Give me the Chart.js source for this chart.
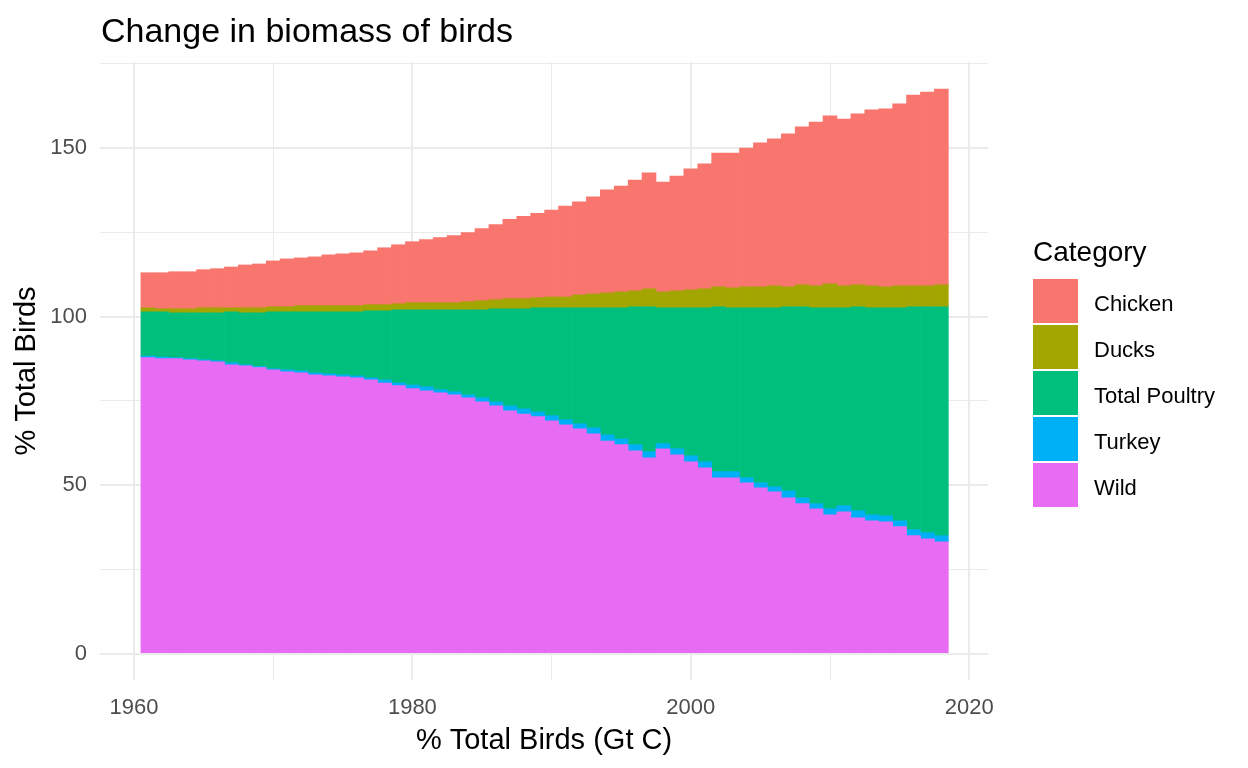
<!DOCTYPE html>
<html>
<head>
<meta charset="utf-8">
<script src="https://cdn.jsdelivr.net/npm/chart.js@4.4.1/dist/chart.umd.min.js"></script>
<style>
    html, body { margin: 0; padding: 0; background: #ffffff; }
    #wrap { width: 1248px; height: 768px; }
</style>
</head>
<body>
<div id="wrap"><canvas id="birdsChart" width="1248" height="768"></canvas></div>
<script>
const years = [
    1961, 1962, 1963, 1964, 1965, 1966, 1967, 1968, 1969, 1970,
    1971, 1972, 1973, 1974, 1975, 1976, 1977, 1978, 1979, 1980,
    1981, 1982, 1983, 1984, 1985, 1986, 1987, 1988, 1989, 1990,
    1991, 1992, 1993, 1994, 1995, 1996, 1997, 1998, 1999, 2000,
    2001, 2002, 2003, 2004, 2005, 2006, 2007, 2008, 2009, 2010,
    2011, 2012, 2013, 2014, 2015, 2016, 2017, 2018
];

const wild = [
    87.8, 87.5, 87.5, 87.2, 86.9, 86.6, 85.7, 85.4, 84.9, 84.2,
    83.6, 83.3, 82.7, 82.4, 82.1, 81.8, 81.2, 80.3, 79.5, 78.6,
    78.0, 77.4, 76.8, 75.9, 74.7, 73.5, 72.0, 71.1, 70.3, 69.1,
    67.9, 66.7, 65.2, 63.1, 62.0, 60.2, 58.1, 60.8, 59.0, 56.9,
    55.1, 52.2, 52.2, 50.7, 49.2, 48.0, 46.2, 44.5, 43.0, 41.2,
    42.1, 40.3, 39.4, 39.1, 37.7, 35.0, 34.1, 33.2
];

const turkey = [
    0.5, 0.5, 0.3, 0.3, 0.3, 0.3, 0.6, 0.3, 0.3, 0.3,
    0.6, 0.6, 0.6, 0.6, 0.6, 0.6, 0.6, 0.9, 0.8, 1.1,
    1.2, 0.9, 0.9, 0.9, 1.2, 1.2, 1.5, 1.5, 1.4, 1.5,
    1.5, 1.5, 1.8, 1.8, 1.7, 1.8, 1.8, 1.5, 1.8, 1.8,
    1.8, 1.8, 1.8, 1.5, 1.5, 1.5, 2.1, 1.7, 1.5, 1.8,
    1.8, 2.1, 1.8, 1.8, 1.7, 1.8, 1.8, 1.8
];

const totalPoultry = [
    13.1, 13.4, 13.3, 13.6, 13.9, 14.2, 15.1, 15.4, 15.9, 16.9,
    17.2, 17.5, 18.1, 18.4, 18.7, 19.0, 19.9, 20.5, 21.7, 22.3,
    22.8, 23.7, 24.3, 25.2, 26.1, 27.6, 28.8, 29.7, 30.9, 32.0,
    33.2, 34.4, 35.6, 37.7, 38.9, 40.9, 43.0, 40.3, 41.8, 43.9,
    45.7, 48.9, 48.6, 50.4, 51.9, 53.1, 54.6, 56.7, 58.1, 59.6,
    58.7, 60.5, 61.4, 61.7, 63.2, 66.1, 67.0, 67.9
];

const ducks = [
    1.2, 0.9, 1.2, 1.2, 1.5, 1.5, 1.2, 1.5, 1.5, 1.5,
    1.5, 1.8, 1.8, 1.8, 1.8, 1.8, 1.8, 1.8, 1.8, 2.1,
    2.1, 2.1, 2.1, 2.4, 2.7, 2.7, 3.0, 3.0, 3.0, 3.2,
    3.2, 3.8, 4.1, 4.4, 4.7, 4.7, 5.3, 4.7, 5.0, 5.3,
    5.6, 5.9, 5.9, 6.2, 6.2, 6.5, 5.9, 6.5, 6.5, 7.1,
    6.5, 6.5, 6.5, 6.2, 6.5, 6.2, 6.2, 6.5
];

const chicken = [
    10.4, 10.7, 11.0, 11.0, 11.3, 11.6, 12.1, 12.7, 13.0, 13.6,
    14.2, 14.2, 14.5, 15.1, 15.4, 15.7, 16.0, 16.9, 17.5, 18.1,
    18.7, 19.3, 19.9, 20.5, 21.4, 22.3, 23.5, 24.4, 25.0, 25.8,
    27.0, 27.6, 28.8, 30.6, 31.4, 32.9, 34.4, 32.6, 34.1, 35.9,
    37.1, 39.7, 40.0, 41.2, 42.7, 43.6, 45.4, 46.9, 48.6, 49.8,
    49.5, 50.7, 52.2, 52.8, 54.0, 56.6, 57.5, 58.1
];

const yTicks = [0, 50, 100, 150];
const xTicks = [1960, 1980, 2000, 2020];

const chartTitle = "Change in biomass of birds";
const xTitle = "% Total Birds (Gt C)";
const yTitle = "% Total Birds";
const legendTitle = "Category";

const FONT = '"Liberation Sans", Arial, sans-serif';
const GRID = '#EBEBEB';

const toPoints = (values) => years.map((yr, i) => ({ x: yr, y: values[i] }));

// major grid where a label sits, minor in between
const isMajor = (list, v) => list.some((t) => Math.abs(t - v) < 1e-6);
const gridWidth = (list) => (c) => (c.tick && isMajor(list, c.tick.value) ? 2 : 1);

// stack order bottom -> top, legend is drawn top -> bottom (reverse)
const series = [
    { label: 'Wild', values: wild, color: '#E76BF3' },
    { label: 'Turkey', values: turkey, color: '#00B0F6' },
    { label: 'Total Poultry', values: totalPoultry, color: '#00BF7D' },
    { label: 'Ducks', values: ducks, color: '#A3A500' },
    { label: 'Chicken', values: chicken, color: '#F8766D' }
];

const titleLegendPlugin = {
    id: 'titleLegend',
    afterDraw: (chart) => {
        const { ctx, chartArea } = chart;
        ctx.save();
        ctx.fillStyle = '#000000';
        ctx.textAlign = 'left';
        ctx.textBaseline = 'alphabetic';

        ctx.font = `34px ${FONT}`;
        ctx.fillText(chartTitle, chartArea.left + 1, 42);

        const lx = chartArea.right + 45;
        ctx.font = `28px ${FONT}`;
        ctx.fillText(legendTitle, lx, 261);

        ctx.font = `22px ${FONT}`;
        const items = chart.data.datasets.slice().reverse();
        items.forEach((ds, i) => {
            const top = 279 + i * 46;
            ctx.fillStyle = ds.backgroundColor;
            ctx.fillRect(lx, top, 45, 44);
            ctx.fillStyle = '#000000';
            ctx.fillText(ds.label, lx + 61, top + 31.5);
        });
        ctx.restore();
    }
};

new Chart(document.getElementById('birdsChart'), {
    type: 'bar',
    data: {
        datasets: series.map((s) => ({
            label: s.label,
            data: toPoints(s.values),
            backgroundColor: s.color,
            borderWidth: 0,
            categoryPercentage: 1,
            barPercentage: 1
        }))
    },
    options: {
        responsive: false,
        animation: false,
        layout: { padding: { left: 0, right: 260, top: 62, bottom: 0 } },
        plugins: {
            legend: { display: false },
            title: { display: false },
            tooltip: { enabled: false }
        },
        scales: {
            x: {
                type: 'linear',
                stacked: true,
                offset: false,
                min: 1957.56,
                max: 2021.35,
                afterFit: (scale) => { scale.height = 88; },
                border: { display: false },
                grid: {
                    offset: false,
                    color: GRID,
                    drawTicks: false,
                    lineWidth: gridWidth(xTicks)
                },
                ticks: {
                    stepSize: 10,
                    includeBounds: false,
                    padding: 14.5,
                    color: '#4D4D4D',
                    font: { family: FONT, size: 22 },
                    maxRotation: 0,
                    autoSkip: false,
                    callback: (v) => (isMajor(xTicks, v) ? String(Math.round(v)) : '')
                },
                title: {
                    display: true,
                    text: xTitle,
                    color: '#000000',
                    font: { family: FONT, size: 29 },
                    padding: { top: 0, bottom: 10 }
                }
            },
            y: {
                stacked: true,
                min: -7.8,
                max: 175.5,
                afterFit: (scale) => { scale.width = 100; },
                border: { display: false },
                grid: {
                    color: GRID,
                    drawTicks: false,
                    lineWidth: gridWidth(yTicks)
                },
                ticks: {
                    stepSize: 25,
                    includeBounds: false,
                    padding: 13,
                    color: '#4D4D4D',
                    font: { family: FONT, size: 22 },
                    autoSkip: false,
                    callback: (v) => (isMajor(yTicks, v) ? String(Math.round(v)) : '')
                },
                title: {
                    display: true,
                    text: yTitle,
                    color: '#000000',
                    font: { family: FONT, size: 29 },
                    padding: { top: 9.4, bottom: 0 }
                }
            }
        }
    },
    plugins: [titleLegendPlugin]
});
</script>
</body>
</html>
